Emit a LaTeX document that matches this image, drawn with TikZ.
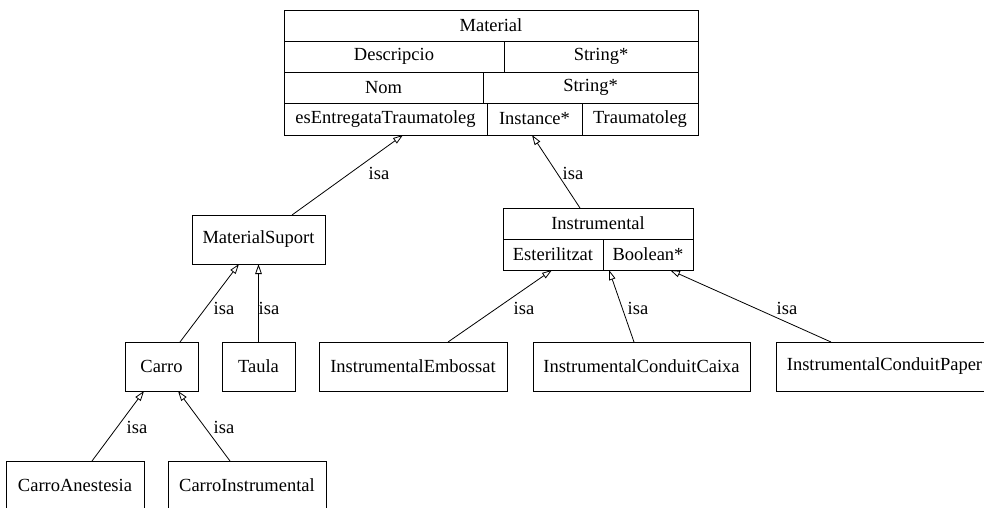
\documentclass[tikz,border=0pt]{standalone}
\usepackage{fontspec}
\setmainfont{Liberation Serif}
\usetikzlibrary{arrows.meta}
\begin{document}
\begin{tikzpicture}[x=1pt,y=-1pt,
  cell/.style={draw, line width=0.9pt, rectangle, inner sep=0pt, outer sep=0pt,
    anchor=north west, font=\fontsize{18.5}{20}\selectfont},
  isa/.style={draw, line width=0.8pt, -{Triangle[open,length=10pt,width=6.5pt]}},
  lbl/.style={inner sep=0pt, font=\fontsize{18.5}{20}\selectfont}]
\useasboundingbox (0,0) rectangle (984,507);
\clip (0,0) rectangle (984,507);
\fill[white] (0,0) rectangle (984,507);

% Material class
\node[cell, minimum width=414pt, minimum height=31pt] (mat) at (284,10) {Material};
\node[cell, minimum width=220pt, minimum height=31pt] (desc) at (284,41) {Descripcio};
\node[cell, minimum width=194pt, minimum height=31pt] (descT) at (504,41) {String*};
\node[cell, minimum width=199pt, minimum height=31pt] (nom) at (284,72) {Nom};
\node[cell, minimum width=215pt, minimum height=31pt] (nomT) at (483,72) {String*};
\node[cell, minimum width=203pt, minimum height=32pt] (esE) at (284,103) {esEntregataTraumatoleg};
\node[cell, minimum width=95pt, minimum height=32pt] (instc) at (487,103) {Instance*};
\node[cell, minimum width=116pt, minimum height=32pt] (trau) at (582,103) {Traumatoleg};

% Instrumental class
\node[cell, minimum width=190pt, minimum height=31pt] (instr) at (503,208) {Instrumental};
\node[cell, minimum width=100pt, minimum height=31pt] (est) at (503,239) {Esterilitzat};
\node[cell, minimum width=90pt, minimum height=31pt] (boolc) at (603,239) {Boolean*};

% Plain classes
\node[cell, minimum width=133pt, minimum height=49pt] (ms) at (192,215) {MaterialSuport};
\node[cell, minimum width=73pt, minimum height=49pt] (carro) at (125,342) {Carro};
\node[cell, minimum width=73pt, minimum height=49pt] (taula) at (222,342) {Taula};
\node[cell, minimum width=188pt, minimum height=49pt] (emb) at (319,342) {InstrumentalEmbossat};
\node[cell, minimum width=217pt, minimum height=49pt] (caixa) at (533,342) {InstrumentalConduitCaixa};
\node[cell, minimum width=217pt, minimum height=49pt] (paper) at (776,342) {InstrumentalConduitPaper};
\node[cell, minimum width=138pt, minimum height=49pt] (ca) at (6,461) {CarroAnestesia};
\node[cell, minimum width=158pt, minimum height=49pt] (ci) at (168,461) {CarroInstrumental};

% Generalisation links
\draw[isa] ([xshift=33.5pt]ms.north) -- ([xshift=17.5pt]esE.south);
\draw[isa] ([xshift=-18pt]instr.north) -- ([xshift=-2.5pt]instc.south);
\draw[isa] ([xshift=18.5pt]carro.north) -- ([xshift=-19.5pt]ms.south);
\draw[isa] (taula.north) -- (ms.south);
\draw[isa] ([xshift=17pt]ca.north) -- ([xshift=-17.5pt]carro.south);
\draw[isa] ([xshift=-17pt]ci.north) -- ([xshift=16.5pt]carro.south);
\draw[isa] ([xshift=35pt]emb.north) -- ([xshift=-1pt]est.south);
\draw[isa] ([xshift=-7.5pt]caixa.north) -- ([xshift=-39pt]boolc.south);
\draw[isa] ([xshift=-53.5pt]paper.north) -- ([xshift=22pt]boolc.south);

% Link labels
\node[lbl] (l1) at (379,173) {isa};
\node[lbl] (l2) at (573,173) {isa};
\node[lbl] (l3) at (224,308) {isa};
\node[lbl] (l4) at (269,308) {isa};
\node[lbl] (l5) at (137,427) {isa};
\node[lbl] (l6) at (224,427) {isa};
\node[lbl] (l7) at (524,308) {isa};
\node[lbl] (l8) at (638,308) {isa};
\node[lbl] (l9) at (787,308) {isa};
\end{tikzpicture}
\end{document}
